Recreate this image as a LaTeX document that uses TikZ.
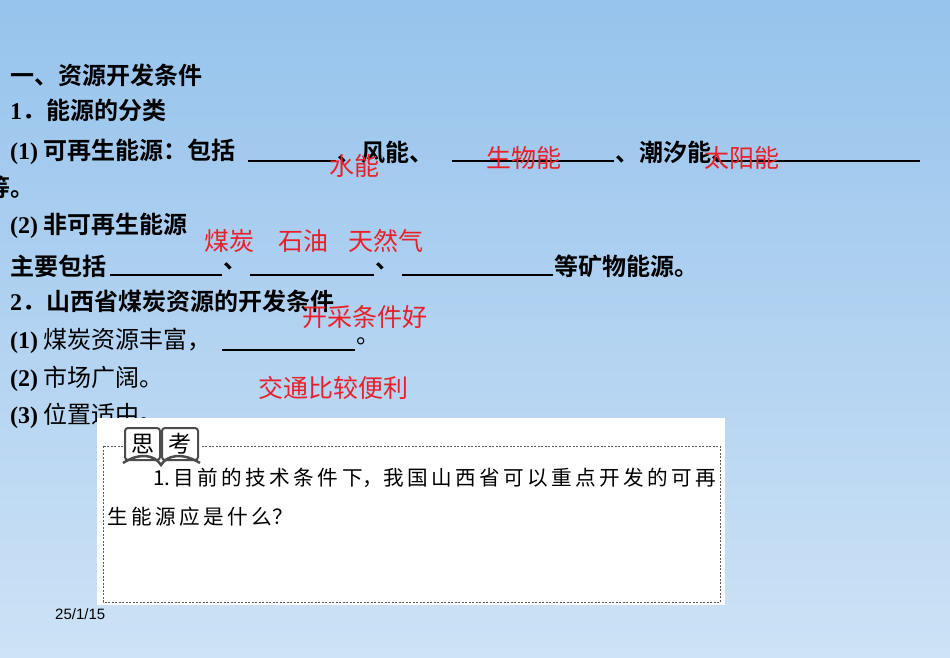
\documentclass[tikz,border=0pt]{standalone}
\usepackage{fontspec}
\setmainfont{Liberation Serif}
\newfontfamily\cjk{Noto Sans CJK SC}
\newfontfamily\cjkb{Noto Sans CJK SC Bold}
\definecolor{redt}{HTML}{E8202A}
\newcommand{\lat}[1]{{\rmfamily\bfseries #1}}
\begin{document}
\begin{tikzpicture}[x=1pt,y=-1pt,
  bt/.style={anchor=west,inner sep=0pt,font=\fontsize{24}{24}\selectfont\cjkb},
  nt/.style={anchor=west,inner sep=0pt,font=\fontsize{24}{24}\selectfont\cjk},
  rt/.style={anchor=west,inner sep=0pt,text=redt,font=\fontsize{25}{25}\selectfont\cjk},
  ul/.style={line width=1.2pt},
  bx/.style={anchor=west,inner sep=0pt,font=\fontsize{20.6}{21}\selectfont\cjk}]
\useasboundingbox (0,0) rectangle (950,657);
\shade[top color={rgb,255:red,150;green,195;blue,236},bottom color={rgb,255:red,205;green,226;blue,246}] (0,0) rectangle (950,657);
\node[bt] (t1) at (10,75) {一、资源开发条件};
\node[bt] (t2) at (10,110) {\lat{1}．能源的分类};
\node[bt] (t3a) at (10,152) {\lat{(1)} 可再生能源：包括};
\draw[ul] (248,161) -- (336,161);
\node[bt] (t3b) at (337,152) {、风能、};
\draw[ul] (452,161) -- (614,161);
\node[bt] (t3c) at (615,152) {、潮汐能、};
\draw[ul] (718,161) -- (920,161);
\node[bt] (t3d) at (-14,187) {等。};
\node[bt] (t4) at (10,226) {\lat{(2)} 非可再生能源};
\node[bt] (t5a) at (10,266) {主要包括};
\draw[ul] (110,275) -- (222,275);
\node[bt] (t5b) at (223,266) {、};
\draw[ul] (250,275) -- (374,275);
\node[bt] (t5c) at (375,266) {、};
\draw[ul] (402,275) -- (553,275);
\node[bt] (t5d) at (554,266) {等矿物能源。};
\node[bt] (t6) at (10,301) {\lat{2}．山西省煤炭资源的开发条件};
\node[nt] (t7a) at (10,341) {\lat{(1)} 煤炭资源丰富，};
\draw[ul] (222,350) -- (355,350);
\node[nt] (t7b) at (356,341) {。};
\node[nt] (t8) at (10,379) {\lat{(2)} 市场广阔。};
\node[nt] (t9) at (10,416) {\lat{(3)} 位置适中。};
\node[rt] (r1) at (329,166) {水能};
\node[rt] (r2) at (486,158) {生物能};
\node[rt] (r3) at (704,158) {太阳能};
\node[rt] (r4) at (204,241) {煤炭\hspace{24pt}石油\hspace{20pt}天然气};
\node[rt] (r5) at (302,317) {开采条件好};
\node[rt] (r6) at (258,388) {交通比较便利};
% box
\fill[white] (97,418) rectangle (725,605);
\draw[dashed,line width=0.8pt,gray!70!black,dash pattern=on 2pt off 1.5pt] (103,446) rectangle (720,602);
% book icon
\fill[white] (123,426) rectangle (200,465);
\draw[line width=2.5pt,black!70] (123,463) .. controls (140,452) and (155,455) .. (161,465) .. controls (167,455) and (182,452) .. (200,463);
\draw[line width=2pt,black!70,rounded corners=3pt] (125,428) rectangle (160,460);
\draw[line width=2pt,black!70,rounded corners=3pt] (162,428) rectangle (198,460);
\node[inner sep=0pt,font=\fontsize{23}{23}\selectfont\cjk] (b1) at (142.5,444) {思};
\node[inner sep=0pt,font=\fontsize{23}{23}\selectfont\cjk] (b2) at (180,444) {考};
\node[bx] (q1) at (153,478) {1.\,目\,前\,的\,技\,术\,条\,件\,下，我\,国\,山\,西\,省\,可\,以\,重\,点\,开\,发\,的\,可\,再};
\node[bx] (q2) at (107,517) {生\,能\,源\,应\,是\,什\,么？};
\node[anchor=west,inner sep=0pt,font=\fontsize{15}{15}\selectfont\fontspec{Liberation Sans}] (d) at (55,614) {25/1/15};
\end{tikzpicture}
\end{document}
